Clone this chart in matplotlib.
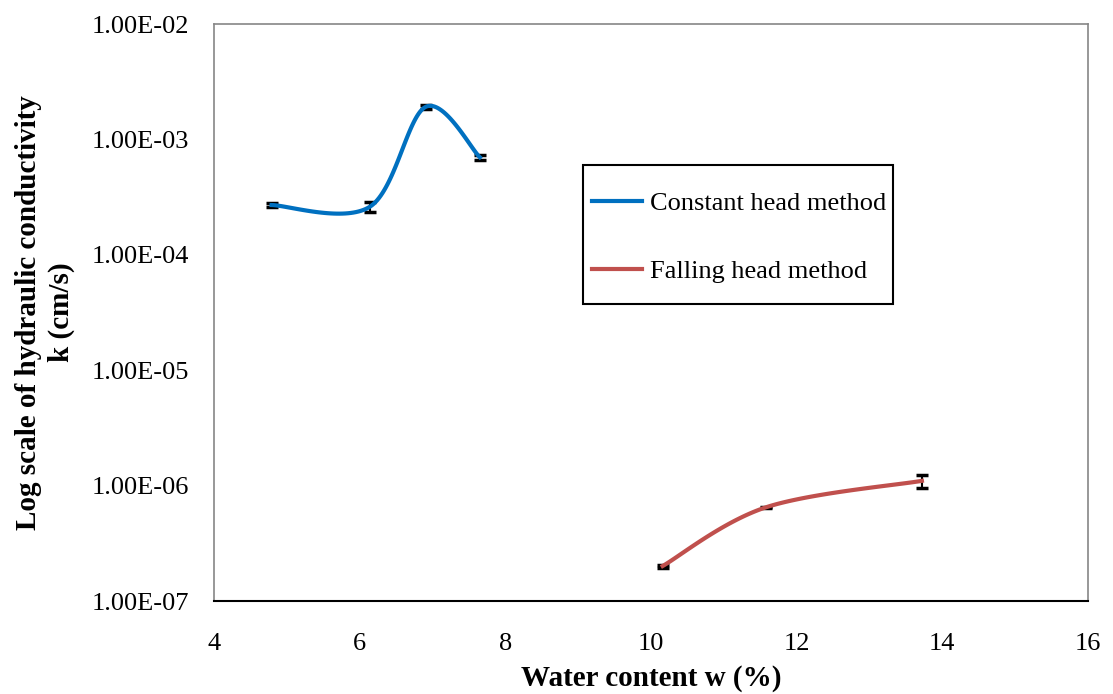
import numpy as np
import matplotlib
matplotlib.use("Agg")
import matplotlib.pyplot as plt
from matplotlib.patches import Rectangle

plt.rcParams['font.family'] = ['Liberation Serif', 'DejaVu Serif']

# constant head method
w_const = [4.79, 6.14, 6.91, 7.65]
k_const = [2.70e-4, 2.61e-4, 1.92e-3, 7.0e-4]
err_const = [0.10e-4, 0.25e-4, 0.08e-3, 0.35e-4]

# falling head method
w_fall = [10.16, 11.58, 13.72]
k_fall = [2.01e-7, 6.49e-7, 1.10e-6]
err_fall = [0.06e-7, 0.10e-7, 0.14e-6]

labels = ["Constant head method", "Falling head method"]
colors = ["#0070C0", "#C0504D"]


def smooth(xs, ys, n=40):
    # catmull-rom in (x, log y), like excel's smoothed line
    p = np.column_stack([xs, np.log10(ys)])
    p = np.vstack([p[0], p, p[-1]])
    out = []
    for i in range(1, len(p) - 2):
        p0, p1, p2, p3 = p[i - 1], p[i], p[i + 1], p[i + 2]
        c1 = p1 + (p2 - p0) / 6
        c2 = p2 - (p3 - p1) / 6
        t = np.linspace(0, 1, n)[:, None]
        seg = (1 - t)**3 * p1 + 3 * (1 - t)**2 * t * c1 + 3 * (1 - t) * t**2 * c2 + t**3 * p2
        out.append(seg)
    out = np.vstack(out)
    return out[:, 0], 10**out[:, 1]


fig = plt.figure(figsize=(11.13, 6.94), dpi=100)
ax = fig.add_axes([0.1923, 0.134, 0.7852, 0.8314])

for xs, ys, es, lab, c in [(w_const, k_const, err_const, labels[0], colors[0]),
                           (w_fall, k_fall, err_fall, labels[1], colors[1])]:
    sx, sy = smooth(xs, ys)
    ax.errorbar(xs, ys, yerr=es, fmt='none', ecolor='black', elinewidth=1.5,
                capsize=4.2, capthick=2.5, zorder=2)
    ax.plot(sx, sy, color=c, lw=3, label=lab, zorder=3)

ax.set_yscale('log')
ax.set_ylim(1e-7, 1e-2)
ax.set_xlim(4, 16)
ax.set_xticks([4, 6, 8, 10, 12, 14, 16])
ax.set_yticks([1e-7, 1e-6, 1e-5, 1e-4, 1e-3, 1e-2])
ax.set_yticklabels(["1.00E-07", "1.00E-06", "1.00E-05", "1.00E-04", "1.00E-03", "1.00E-02"])
ax.minorticks_off()
ax.tick_params(length=0, labelsize=19)
ax.tick_params(axis='x', pad=23)
ax.tick_params(axis='y', pad=18)

for s in ['top', 'right', 'left']:
    ax.spines[s].set_color('#868686')
    ax.spines[s].set_linewidth(1.2)
ax.spines['bottom'].set_color('black')
ax.spines['bottom'].set_linewidth(1.5)

ax.set_xlabel("Water content w (%)", fontsize=21, fontweight='bold', labelpad=7)
ax.set_ylabel("Log scale of hydraulic conductivity\nk (cm/s)", fontsize=21,
              fontweight='bold', labelpad=12, linespacing=1.25)

leg = ax.legend(loc='center left', bbox_to_anchor=(579 / 1113, 1 - 237.5 / 694),
                bbox_transform=fig.transFigure, fontsize=19, frameon=False,
                handlelength=1.9, handletextpad=0.3, labelspacing=1.7, borderpad=0)
fig.patches.append(Rectangle((583 / 1113, 1 - 304 / 694), 310 / 1113, 139 / 694,
                             transform=fig.transFigure, fill=False,
                             edgecolor='black', lw=1.5))

fig.savefig("out.png", dpi=100)
